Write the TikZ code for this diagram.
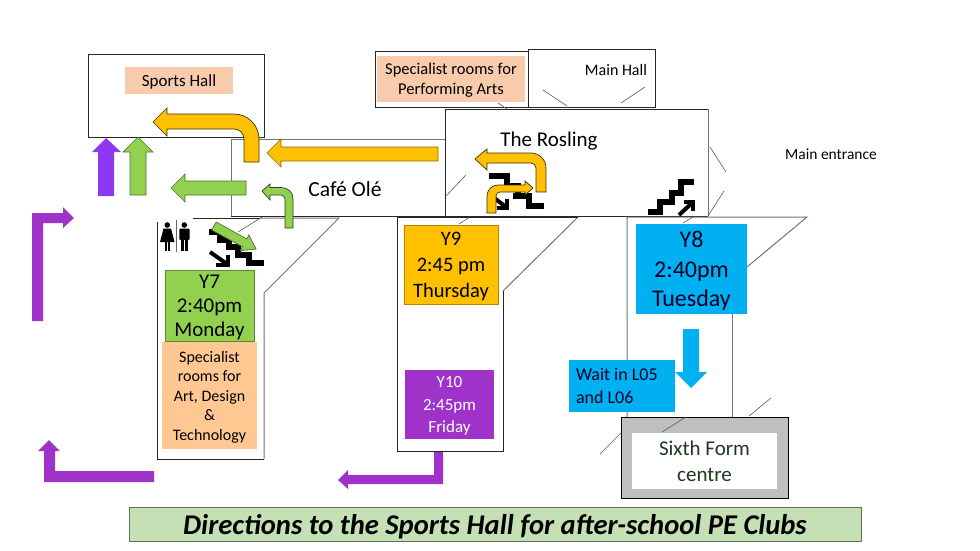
\documentclass[tikz,border=0pt]{standalone}
\usepackage{fontspec}
\setmainfont{Carlito}
\definecolor{orangearw}{HTML}{FFC000}
\definecolor{greenarw}{HTML}{92D050}
\definecolor{purplearw}{HTML}{9F33C9}
\definecolor{violetarw}{HTML}{8D38F5}
\definecolor{bluearw}{HTML}{00B0F0}
\definecolor{peach}{HTML}{F8CBAD}
\definecolor{apricot}{HTML}{FFC892}
\definecolor{titlegreen}{HTML}{C5E0B4}
\definecolor{sixthgreen}{HTML}{1E3A1E}
\newcommand{\fsize}[2]{\fontsize{#1}{#2}\selectfont}
\tikzset{
	wall/.style={draw=black!55,line width=1pt},
	darkwall/.style={draw=black!85,line width=0.9pt},
	tick/.style={draw=black!65,line width=0.6pt},
	stairs/.style={draw=black,line width=6.8pt,line join=miter},
	stairarw/.style={draw=black,line width=4pt},
	roomlabel/.style={inner sep=0pt,align=center},
	card/.style 2 args={rectangle,inner sep=0pt,align=center,text depth=0pt,minimum width=#1,minimum height=#2},
	orangearrow/.style={fill=orangearw,draw=black!75!orangearw,line width=0.7pt},
	greenarrow/.style={fill=greenarw,draw=black!45!greenarw,line width=0.7pt},
	purplearrow/.style={fill=purplearw},
	bluearrow/.style={fill=bluearw}
}

\begin{document}
\begin{tikzpicture}[x=1pt,y=-1pt]
	\useasboundingbox (0,0) rectangle (980,551);

	\draw [darkwall] (375,107) -- (375,51) -- (528,51);
	\draw [darkwall] (375,107) -- (528,107);
	\draw [darkwall] (528,107) -- (528,49) -- (655,49) -- (655,107) -- (528,107);
	\draw [darkwall] (88,54) rectangle (264,137);
	\draw [wall] (445,139) -- (231,139) -- (231,216);
	\draw [darkwall] (231,216) -- (445,216);
	\draw [darkwall] (708,216) -- (445,216) -- (445,109) -- (708,109);
	\draw [wall] (708,109) -- (708,216);

	\draw [darkwall] (193,218) -- (260,218);
	\draw [wall] (260,218) -- (339,218) -- (264,293) -- (264,459);
	\draw [darkwall] (157,222) -- (157,459) -- (264,459);
	\draw [wall] (503,291) -- (578,217);
	\draw [darkwall] (578,217) -- (397,217) -- (397,451) -- (503,451) -- (503,291);
	\draw [wall] (627,417) -- (627,217) -- (807,217) -- (747,267);
	\draw [wall] (732,314) -- (732,417);

	\draw [tick] (543,90) -- (567,106);
	\draw [tick] (645,87) -- (621,103);
	\draw [tick] (498,103) -- (507,109);
	\draw [tick] (466,175) -- (446,196);
	\draw [tick] (710,147) -- (726,172);
	\draw [tick] (724,191) -- (708,216);
	\draw [tick] (262,217) -- (238,232);
	\draw [tick] (470,217) -- (459,224);
	\draw [tick] (693,217) -- (683,223);
	\draw [tick] (771,398) -- (749,416);
	\draw [tick] (621,433) -- (600,454);

	\node [card={108pt}{27pt},fill=peach,font=\fsize{17}{20}] (sportslabel) at (179,80.5) {Sports Hall};
	\node [card={148pt}{46pt},fill=peach,font=\fsize{16.5}{20}] (performing) at (451,79) {Specialist rooms for\\Performing Arts};
	\node [roomlabel,font=\fsize{16}{19}] (mainhall) at (616,70) {Main Hall};
	\node [roomlabel,font=\fsize{21}{24}] (rosling) at (549,141) {The Rosling};
	\node [roomlabel,font=\fsize{21.5}{24}] (cafe) at (345,189) {Café Olé};
	\node [roomlabel,font=\fsize{15.5}{18}] (entrance) at (831,154) {Main entrance};

	\draw [stairs] (209,232) -- (220,232) -- (220,240) -- (229,240) -- (229,247) -- (238,247) -- (238,255) -- (249,255) -- (249,263) -- (264,263);
	\draw [stairarw] (210,252) -- (227,264);
	\draw [stairarw] (216,265) -- (228,265) -- (228,255);
	\draw [stairs] (489,176) -- (507,176) -- (507,186) -- (518,186) -- (518,196) -- (513,196) -- (529,196) -- (529,206) -- (544,206);
	\draw [stairarw] (493,197) -- (506,207);
	\draw [stairarw] (497,208) -- (507,208) -- (507,199);
	\draw [stairs] (648,212) -- (660,212) -- (660,202) -- (672,202) -- (672,193) -- (681,193) -- (681,182) -- (694,182);
	\draw [stairarw] (679,215) -- (692,203);
	\draw [stairarw] (684,202) -- (693,202) -- (693,211);

	\fill (167.3,225) circle (2.8);
	\fill (163.5,228.5) -- (171,228.5) -- (174.5,242) -- (160,242) -- cycle;
	\fill (164.5,242) rectangle (166.8,251);
	\fill (167.8,242) rectangle (170.1,251);
	\draw [black!60,line width=0.7pt] (176.7,220) -- (176.7,252);
	\fill (184.3,225) circle (2.8);
	\fill [rounded corners=1pt] (179.3,228.5) rectangle (189.5,240);
	\fill (181,238) rectangle (184,251);
	\fill (184.8,238) rectangle (187.8,251);

	\node [card={89pt}{71pt},fill=greenarw,draw=black!35!greenarw,font=\fsize{21}{24}] (y7) at (209.5,305.5) {Y7\\2:40pm\\Monday};
	\node [card={95pt}{107pt},fill=apricot,font=\fsize{16}{19.5}] (artrooms) at (209.5,395.5) {Specialist\\rooms for\\Art, Design\\\&\\Technology};
	\node [card={94pt}{79pt},fill=orangearw,draw=black!30!orangearw,font=\fsize{20.5}{26}] (y9) at (451,264.5) {Y9\\2:45 pm\\Thursday};
	\node [card={89pt}{69pt},fill=purplearw,text=white,font=\fsize{17}{22.5}] (y10) at (449.5,404.5) {Y10\\2:45pm\\Friday};
	\node [card={111pt}{90pt},fill=bluearw,text=black!85!blue,font=\fsize{24}{29.5}] (y8) at (691.5,269) {Y8\\2:40pm\\Tuesday};
	\node [card={106pt}{52pt},fill=bluearw,text=black!85!blue,text depth={},text width=92pt,align=flush left,font=\fsize{18}{23}] (wait) at (622,386) {Wait in L05\\and L06};
	\node [card={167pt}{81pt},fill=black!25,draw=black,line width=0.8pt] (sixthouter) at (704.5,457.5) {};
	\node [card={145pt}{56pt},fill=white,text=sixthgreen,font=\fsize{21}{26}] (sixth) at (704.5,461) {Sixth Form\\centre};
	\draw [tick] (686,417) -- (662,432);

	\draw [orangearrow] (259,162) -- (259,139) .. controls (259,125.2) and (247.8,114) .. (234,114) -- (167,114) -- (167,108) -- (153,122) -- (167,136) -- (167,129) -- (234,129) .. controls (239.5,129) and (244,133.5) .. (244,139) -- (244,162) -- cycle;
	\draw [orangearrow,draw=black!45!orangearw] (438,147) -- (281,147) -- (281,139) -- (267,153) -- (281,167) -- (281,161) -- (438,161) -- cycle;
	\draw [orangearrow] (546,192) -- (546,168) .. controls (546,159.7) and (539.3,153) .. (531,153) -- (487,153) -- (487,149) -- (475,159) -- (487,170) -- (487,163) -- (531,163) .. controls (533.8,163) and (536,165.2) .. (536,168) -- (536,192) -- cycle;
	\draw [orangearrow] (487,213) -- (487,196) .. controls (487,190) and (492,185) .. (498,185) -- (525,185) -- (525,181) -- (533,188) -- (525,195) -- (525,192) -- (500,192) .. controls (498,192) and (496,194) .. (496,196) -- (496,213) -- cycle;

	\draw [greenarrow] (246,181) -- (185,181) -- (185,174) -- (171,188) -- (185,202) -- (185,195) -- (246,195) -- cycle;
	\draw [greenarrow] (130,195) -- (130,152) -- (123,152) -- (138,137) -- (153,152) -- (146,152) -- (146,195) -- cycle;
	\draw [greenarrow,draw=black!70!greenarw] (285,228) -- (285,199) .. controls (285,197) and (283,195) .. (281,195) -- (270,195) -- (270,200) -- (262,191) -- (270,184) -- (270,187.5) -- (281,187.5) .. controls (288,187.5) and (293,192) .. (293,199) -- (293,228) -- cycle;
	\draw [greenarrow] (211.8,230) -- (216.2,222) -- (246.8,238.9) -- (248.9,234.9) -- (256,249) -- (240.3,250.7) -- (242.4,246.7) -- cycle;

	\fill [violetarw] (98,196) -- (98,152) -- (92,152) -- (106,138) -- (121,152) -- (114,152) -- (114,196) -- cycle;
	\fill [purplearrow] (32,321) -- (32,213) -- (63,213) -- (63,207) -- (74,218) -- (63,228) -- (63,223) -- (43,223) -- (43,321) -- cycle;
	\fill [purplearrow] (154,482) -- (44,482) -- (44,451) -- (38,451) -- (49,440) -- (60,451) -- (55,451) -- (55,471) -- (154,471) -- cycle;
	\fill [purplearrow] (443,452) -- (443,484) -- (348,484) -- (348,489) -- (338,480) -- (348,470) -- (348,475) -- (434,475) -- (434,452) -- cycle;
	\fill [bluearrow] (683,329) -- (699,329) -- (699,372) -- (707,372) -- (691,388) -- (675,372) -- (683,372) -- cycle;

	\node [card={732pt}{34pt},fill=titlegreen,draw=black!50!titlegreen,line width=0.8pt,font=\fsize{28.6}{32}\bfseries\itshape] (title) at (495,524) {Directions to the Sports Hall for after-school PE Clubs};
\end{tikzpicture}
\end{document}
